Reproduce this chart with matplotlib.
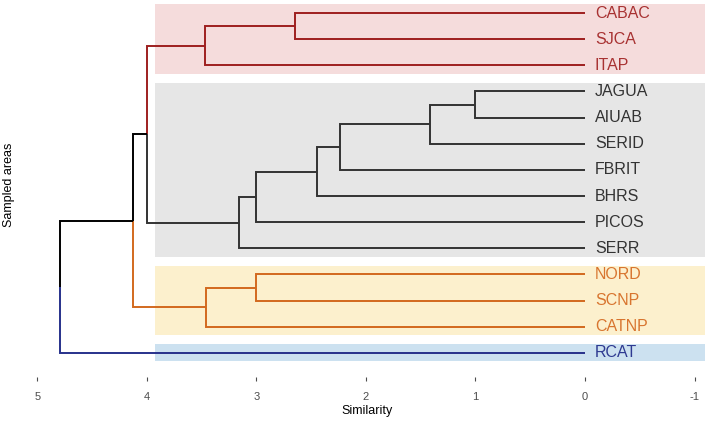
import matplotlib
matplotlib.use("Agg")
import matplotlib.pyplot as plt
from matplotlib.patches import Rectangle

plt.rcParams["font.family"] = ["Liberation Sans", "DejaVu Sans"]

# -------------------------------
# Data: leaves (top to bottom), merges and clusters
# -------------------------------
leaves = ["CABAC", "SJCA", "ITAP", "JAGUA", "AIUAB", "SERID", "FBRIT",
          "BHRS", "PICOS", "SERR", "NORD", "SCNP", "CATNP", "RCAT"]

# merge k creates node "m{k}"
merge_left = ["CABAC", "m0", "JAGUA", "m2", "m3", "m4", "m5", "m6",
              "NORD", "m8", "m1", "m10", "m11"]
merge_right = ["SJCA", "ITAP", "AIUAB", "SERID", "FBRIT", "BHRS", "PICOS", "SERR",
               "SCNP", "CATNP", "m7", "m9", "RCAT"]
merge_height = [2.65, 3.47, 1.00, 1.42, 2.24, 2.45, 3.00, 3.16,
                3.00, 3.46, 4.00, 4.13, 4.79]

leaf_cluster = [0, 0, 0, 1, 1, 1, 1, 1, 1, 1, 2, 2, 2, 3]
cluster_line = ["#9e1f1f", "#333333", "#d2691e", "#27318b"]
cluster_text = ["#a83232", "#333333", "#d8752f", "#2e3a91"]
cluster_fill = ["#f5dcdc", "#e6e6e6", "#fcf0cd", "#cce1f0"]

# -------------------------------
# Build tree
# -------------------------------
pos = {name: (i, 0.0) for i, name in enumerate(leaves)}
members = {name: {i} for i, name in enumerate(leaves)}
children = {}
for k, (l, r, h) in enumerate(zip(merge_left, merge_right, merge_height)):
    name = f"m{k}"
    pos[name] = ((pos[l][0] + pos[r][0]) / 2, h)
    members[name] = members[l] | members[r]
    children[name] = (l, r)


def node_color(name):
    cl = {leaf_cluster[i] for i in members[name]}
    return cluster_line[cl.pop()] if len(cl) == 1 else "black"


fig = plt.figure(figsize=(7.2, 4.25), dpi=100)
ax = fig.add_axes([0.0417, 0.113, 0.9375, 0.887])

# Cluster boxes
for c in range(len(cluster_fill)):
    idx = [i for i, v in enumerate(leaf_cluster) if v == c]
    y0, y1 = min(idx) - 0.34, max(idx) + 0.32
    ax.add_patch(Rectangle((-1.1, y0), 3.93 + 1.1, y1 - y0,
                           facecolor=cluster_fill[c], edgecolor="none", zorder=0))

# Links: each child edge drawn in the child's colour
for parent, (l, r) in children.items():
    py, ph = pos[parent]
    for child in (l, r):
        cy, ch = pos[child]
        col = node_color(child)
        ax.plot([ph, ph, ch], [py, cy, cy], color=col, lw=1.4,
                solid_capstyle="butt", solid_joinstyle="miter", zorder=2)

# Leaf labels
for i, name in enumerate(leaves):
    ax.text(-0.09, i, name, color=cluster_text[leaf_cluster[i]],
            fontsize=11.5, ha="left", va="center")

ax.set_xlim(5.068, -1.096)
ax.set_ylim(13.92, -0.5)
ax.set_xticks([5, 4, 3, 2, 1, 0, -1])
ax.set_xticklabels(["5", "4", "3", "2", "1", "0", "-1"])
ax.set_yticks([])
for s in ax.spines.values():
    s.set_visible(False)
ax.tick_params(axis="x", length=3, width=0.8, color="#4d4d4d",
               labelcolor="#4d4d4d", labelsize=8, pad=8)
ax.set_xlabel("Similarity", fontsize=9, labelpad=2)
ax.set_ylabel("Sampled areas", fontsize=9)
ax.yaxis.set_label_coords(-0.022, 0.51)

fig.savefig("out.png", dpi=100)
